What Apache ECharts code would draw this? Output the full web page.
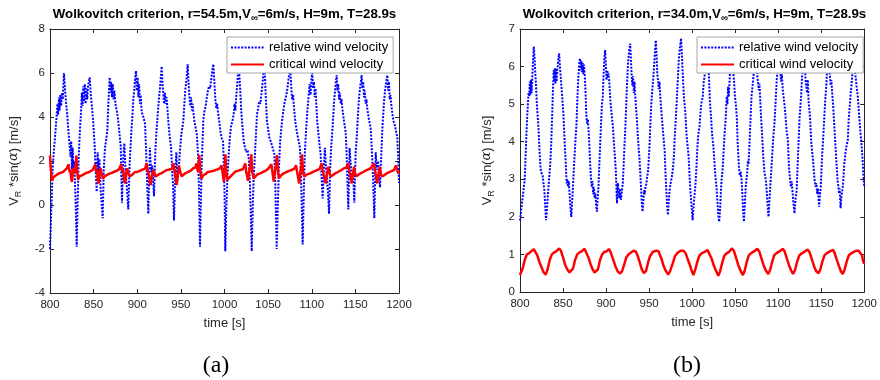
<!DOCTYPE html>
<html>
<head>
<meta charset="utf-8">
<script src="https://cdn.jsdelivr.net/npm/echarts@6/dist/echarts.min.js"></script>
<style>
  html, body { margin: 0; padding: 0; background: #fff; }
  #chart { width: 880px; height: 380px; }
</style>
</head>
<body>
<div id="chart"></div>
<script>
// Wolkovitch criterion time histories, two blade radii, [time s, value m/s]

// (a) r = 54.5 m : relative wind velocity
const relA = [
[800,-2.0],[801.5,-0.2],[803,1.6],[804.5,2.5],[806,3.2],[807.5,4.0],[808.5,4.6],[809.3,4.1],[810.2,4.9],[811,4.3],[811.9,5.0],[812.8,4.5],[813.7,5.1],[814.6,4.8],[816,6.0],[817.3,5.2],[818.5,4.6],[819.8,4.1],[821,3.4],[822.5,2.7],[823.5,2.2],[824.3,2.9],[825.2,1.6],[826,2.6],[826.8,1.5],[827.8,2.0],[829.3,0.2],[830.6,-1.9],
[831.8,0.3],[833,2.3],[834.3,3.4],[835.5,4.2],[836.5,5.1],[837.3,4.5],[838.2,5.4],[839,4.7],[839.9,5.5],[840.8,4.6],[841.7,5.3],[842.6,4.8],[843.6,5.4],[845.5,5.8],[846.8,5.0],[848,4.5],[849.3,3.9],[850.4,3.2],[851.2,2.7],[852.3,1.6],[853.5,0.6],[854.6,2.4],[855.6,1.3],[856.6,2.1],[858.2,0.6],[860.4,-0.6],
[861.6,1.6],[863,2.6],[864.5,3.0],[865.7,3.4],[866.8,4.5],[868.4,5.8],[869.3,5.1],[870.2,5.6],[871.1,4.9],[872,5.5],[872.9,4.8],[873.8,5.2],[875,4.6],[876.5,4.3],[878,3.9],[879.5,3.3],[881,2.7],[882.5,0.1],[884,2.2],[885.2,2.8],[886.5,1.6],[887.8,1.0],[889.7,-0.2],
[891.2,1.8],[893.2,3.3],[894.5,4.1],[895.5,4.8],[896.5,5.2],[897.5,5.7],[898.6,6.1],[899.5,5.2],[900.4,5.8],[901.3,4.9],[902.2,5.5],[903.1,4.6],[904,5.0],[905,4.25],[907,4.0],[908.9,3.7],[910,2.6],[911.2,1.2],[912.7,-0.4],[914.5,2.6],[915.8,1.5],[917.3,1.8],[919.2,0.4],
[920.8,2.5],[922.3,3.5],[923.6,4.2],[924.8,4.8],[926,5.3],[927,5.8],[928,6.3],[929,5.5],[929.9,5.0],[930.8,4.6],[931.7,5.1],[932.6,4.6],[933.5,4.9],[934.4,4.5],[935.6,3.8],[937.2,3.1],[938.8,2.6],[940,1.6],[941,0.9],[942.1,-0.7],
[943.6,1.4],[944.8,2.4],[946,1.1],[947.5,1.6],[948.8,2.4],[950.5,3.2],[952.8,3.8],[954,4.6],[955.2,5.3],[956.5,5.7],[957.8,6.4],[958.8,5.6],[959.8,4.9],[960.8,4.5],[961.7,4.9],[962.6,4.3],[963.5,4.6],[964.4,4.2],[965.5,3.8],[967,3.5],[968.3,3.2],[969.5,2.4],[970.6,1.0],[971.9,-1.9],
[973,0.3],[973.8,1.8],[975,3.0],[975.8,3.9],[977,4.25],[978.5,4.5],[979.8,4.9],[981,5.2],[982.3,5.4],[983.5,5.3],[984.7,5.7],[986,6.1],[987.2,6.4],[988.4,5.6],[989.5,4.8],[990.6,4.4],[991.6,4.6],[992.6,4.2],[994,3.8],[995.5,3.3],[997,3.0],[998.3,2.9],[999.3,1.8],[1000.1,0.4],[1000.9,-2.1],
[1002,-0.3],[1003.4,1.3],[1004.8,2.3],[1006,3.0],[1007.5,3.6],[1009,3.8],[1010.5,4.1],[1011.5,4.6],[1012.5,4.3],[1013.5,5.0],[1014.5,5.4],[1015.5,6.0],[1016.5,6.2],[1017.5,5.6],[1018.3,5.0],[1019.3,4.2],[1020.5,3.6],[1022,2.9],[1023.5,2.6],[1025,2.4],[1026.5,2.5],[1027.8,2.1],[1029,1.2],[1030.2,-0.5],[1031.2,-2.1],
[1032.3,-0.2],[1033.4,1.2],[1034.5,2.0],[1035.8,3.0],[1037.2,4.1],[1038.5,4.4],[1039.8,4.7],[1041,4.6],[1042.2,5.0],[1043.5,5.5],[1044.9,6.1],[1046,6.2],[1047.2,5.0],[1048.7,3.8],[1050.2,3.4],[1051.7,3.0],[1053,2.9],[1054.4,2.7],[1055.8,2.5],[1057.2,2.3],[1058.3,0.8],[1059.8,-2.0],
[1061,-0.2],[1062.3,1.6],[1063.8,2.9],[1065.9,3.8],[1067.5,4.3],[1069,4.7],[1070.3,4.9],[1071.6,5.15],[1073,5.6],[1074.3,6.0],[1075.4,6.2],[1076.5,5.4],[1077.5,4.8],[1078.6,5.0],[1079.7,4.4],[1081.1,3.8],[1082.6,3.4],[1084,3.1],[1085,2.9],[1086.5,2.6],[1087.8,1.2],[1089.6,-1.8],
[1090.8,0.4],[1092,2.3],[1093.5,3.4],[1095,4.3],[1096.5,5.0],[1097.6,5.5],[1098.6,5.0],[1099.6,5.7],[1100.6,6.0],[1101.6,5.3],[1102.5,5.6],[1103.4,4.9],[1104.3,5.3],[1105.2,4.6],[1106.3,3.8],[1108,3.1],[1109,2.7],[1110.2,2.3],[1111.2,1.3],[1112.5,0.3],[1113.8,1.6],[1115,2.6],[1116.3,1.7],[1117.6,1.2],[1118.8,0.4],[1119.8,-0.4],
[1121.3,1.9],[1122.4,2.7],[1123.5,3.3],[1124.6,4.0],[1125.6,4.7],[1126.6,5.15],[1127.6,5.6],[1128.6,5.9],[1129.5,5.2],[1130.4,5.5],[1131.3,4.8],[1132.2,5.1],[1133.2,4.6],[1134.2,4.8],[1135,4.4],[1137,3.8],[1138.9,3.3],[1139.8,2.5],[1140.8,1.2],[1141.9,-0.2],[1143.4,2.6],[1144.7,1.8],[1146,1.3],[1147.4,1.5],[1148.8,0.1],
[1150.3,2.4],[1151.5,3.0],[1152.8,4.0],[1154.1,4.85],[1155.3,5.3],[1156.3,5.6],[1157.2,5.9],[1158.1,5.3],[1159,5.6],[1159.9,4.9],[1160.8,5.2],[1161.8,4.6],[1162.7,4.8],[1163.6,4.4],[1165.5,3.9],[1167.5,3.5],[1168.8,2.6],[1170.2,1.3],[1171.7,-0.6],[1173.3,2.4],[1174.6,1.6],[1176,2.0],[1177.2,1.4],[1178.2,0.8],
[1179.6,2.2],[1181,3.5],[1182.8,4.7],[1184,5.2],[1185.3,5.6],[1186.6,5.9],[1187.6,5.2],[1188.5,5.6],[1189.4,4.8],[1190.3,5.0],[1191.3,4.5],[1192.5,4.1],[1193.8,3.8],[1195.4,3.6],[1196.8,3.3],[1198,3.1],[1199,2.2],[1200,1.0]
];

// (a) r = 54.5 m : critical wind velocity
const critA = [
[800,2.25],[801,1.6],[802.3,1.1],[803.5,1.25],[805,1.3],[807,1.35],[809,1.4],[811,1.45],[813,1.5],[815,1.5],[817,1.55],[819,1.65],[820.5,1.6],[821.4,1.85],[822.4,1.5],[823.3,1.6],[824.3,1.2],[825.2,1.05],[826,1.4],[827,1.7],[828,1.55],[829.2,1.45],[830.2,2.25],[831.2,1.5],[832.2,1.15],
[833.5,1.3],[835,1.35],[837,1.35],[839,1.4],[841,1.45],[843,1.5],[845,1.5],[847,1.55],[849,1.6],[850.6,1.6],[852,1.85],[853,1.5],[854,1.6],[854.8,1.15],[855.8,0.98],[856.8,1.4],[858,1.67],[859,1.45],[860.7,1.2],
[862.5,1.3],[864.5,1.35],[867,1.4],[870,1.45],[873,1.5],[876,1.55],[879,1.62],[880.5,1.65],[881.7,1.85],[882.8,1.5],[884,1.6],[885,1.15],[886.3,0.98],[887.4,1.4],[888.6,1.67],[889.8,1.45],[891.3,1.3],
[893,1.3],[895,1.4],[897.4,1.5],[900,1.5],[902.5,1.55],[905,1.59],[907,1.6],[909,1.65],[910.8,1.9],[911.8,1.6],[912.8,1.65],[914,1.2],[915.4,0.9],[916.8,1.35],[918.4,1.6],[919.7,1.45],[921.1,1.3],
[923,1.35],[925,1.4],[927.5,1.44],[930,1.5],[933.7,1.59],[936,1.6],[938,1.62],[939.8,1.65],[941.3,1.9],[942.4,1.6],[943.5,1.55],[944.3,1.2],[945.2,0.9],[946.5,1.4],[947.8,1.8],[949,1.55],[950.9,1.3],
[953,1.35],[955,1.44],[958,1.5],[961,1.55],[964.2,1.67],[966.5,1.7],[968,1.89],[969,1.6],[970,1.5],[971.1,2.27],[972.3,1.5],[973.5,1.2],
[975.7,1.36],[978,1.4],[981,1.5],[984,1.52],[987,1.55],[989.1,1.59],[992,1.62],[994.8,1.67],[996.5,1.8],[997.5,1.55],[998.4,1.6],[999.3,1.05],[1000.2,1.5],[1001,2.3],[1002,1.5],[1003.3,1.15],
[1004.8,1.21],[1007,1.3],[1009.5,1.4],[1012.4,1.52],[1015,1.55],[1018,1.59],[1021,1.62],[1022.8,1.7],[1023.8,1.89],[1024.8,1.55],[1025.8,1.6],[1026.9,1.1],[1028.2,1.5],[1029.5,1.8],[1030.7,2.3],[1031.8,1.5],[1033.4,1.21],
[1035.5,1.3],[1038,1.4],[1041,1.44],[1044,1.5],[1047,1.55],[1050.6,1.67],[1052.5,1.7],[1053.8,1.85],[1054.8,1.55],[1055.6,1.6],[1056.4,1.06],[1057.6,1.45],[1058.8,1.8],[1060.2,2.27],[1061.3,1.5],[1062.5,1.21],
[1065,1.35],[1068,1.44],[1071,1.5],[1074,1.55],[1077,1.59],[1080,1.65],[1082,1.8],[1083,1.55],[1084.4,1.6],[1085.7,0.98],[1086.9,1.5],[1088,1.8],[1088.8,2.3],[1090,1.5],[1091.3,1.3],
[1094,1.38],[1098.3,1.44],[1102,1.52],[1106,1.59],[1109,1.63],[1111.3,1.89],[1112.4,1.6],[1113.5,1.62],[1114.8,1.2],[1116,0.98],[1117.4,1.4],[1119,1.74],[1120.3,1.45],[1121.7,1.3],
[1124,1.35],[1127,1.44],[1130,1.5],[1134,1.59],[1137,1.67],[1139.5,1.7],[1141.9,1.89],[1142.9,1.6],[1144,1.62],[1145.8,0.98],[1147.2,1.4],[1148.4,1.74],[1149.6,1.45],[1150.8,1.3],
[1153,1.35],[1156,1.44],[1159,1.5],[1163,1.59],[1167.5,1.67],[1169.5,1.7],[1171.3,1.89],[1172.3,1.6],[1173.5,1.62],[1175.1,0.98],[1176.5,1.4],[1177.8,1.74],[1179,1.45],[1180.3,1.3],
[1183,1.35],[1186,1.44],[1190,1.52],[1194.3,1.59],[1196.5,1.8],[1197.8,1.6],[1199.2,1.44],[1200,1.5]
];

// (b) r = 34.0 m : relative wind velocity
const relB = [
[800,1.9],[801.5,2.2],[803,2.5],[805.4,2.98],[806.3,3.5],[807.2,4.04],[808.2,4.6],[809.2,5.02],[810,5.3],[810.7,5.2],[811.4,5.6],[812.1,5.25],[812.8,5.65],[813.5,5.3],[814.3,5.7],[815.2,6.2],[816,6.53],[816.8,6.3],[817.6,5.9],[818.6,5.5],[819.6,5.0],[820.5,4.7],[821.4,4.4],[822.6,3.8],[823.5,3.4],[824.4,3.2],[825.3,3.2],[826.3,3.1],[827.3,2.9],[828.3,2.7],[829.3,2.3],[830.2,1.91],
[831.3,2.2],[832.5,2.62],[833.8,3.0],[835.2,3.42],[836.2,3.9],[837.2,4.57],[838.2,5.3],[839.2,5.9],[839.8,5.6],[840.5,5.97],[841.2,5.55],[841.9,5.95],[842.6,5.6],[843.4,5.9],[844.5,6.2],[845.5,6.35],[846.4,6.0],[847.6,5.64],[849,5.2],[850.4,4.75],[851.5,4.2],[852.3,3.8],[853.2,3.42],[854.2,2.89],[855,3.0],[855.8,2.8],[856.6,2.95],[857.4,2.7],[858.4,2.3],[859.6,2.0],
[860.6,2.4],[861.6,2.8],[862.5,3.25],[863.6,3.7],[864.6,4.1],[865.7,4.49],[866.6,5.1],[867.6,5.64],[868.6,6.0],[869.6,6.22],[870.4,5.9],[871.2,6.15],[872,5.85],[872.8,6.1],[873.6,5.8],[874.4,6.05],[875.3,5.75],[876.2,5.3],[877.1,4.7],[877.9,4.49],[878.7,4.6],[879.5,4.4],[880.4,4.0],[881.5,3.42],[882.5,3.0],[883.4,2.8],[884.2,2.95],[885,2.6],[885.8,2.8],[886.7,2.5],[887.6,2.62],[888.5,2.3],[889.4,2.14],
[890.3,2.5],[891.2,2.8],[892.2,3.4],[893.2,3.95],[894.2,4.5],[895.2,5.0],[896.2,5.2],[897,5.7],[898,6.2],[898.9,6.44],[899.7,6.1],[900.5,5.64],[901.4,5.9],[902.2,5.7],[903,5.82],[904,5.5],[905,5.1],[906.2,4.8],[907,4.6],[908,4.4],[909.3,3.9],[910.3,3.6],[911.3,3.25],[912.7,2.36],[913.6,2.9],[914.6,2.71],[915.5,2.5],[916.4,2.75],[917.2,2.45],[918.4,2.4],
[919.5,2.9],[920.5,3.4],[921.4,3.9],[922.3,4.31],[923.3,4.9],[924.3,5.5],[925.5,6.08],[926.7,6.4],[928,6.61],[928.9,6.2],[929.8,5.73],[930.6,5.5],[931.4,5.75],[932.2,5.3],[933,5.6],[933.8,5.27],[934.6,5.0],[935.6,4.67],[936.8,4.2],[938,3.8],[938.7,3.6],[939.7,3.2],[940.6,2.8],[941.5,2.4],[942.4,2.14],
[943.3,2.4],[944.1,2.71],[945,2.6],[945.9,2.8],[947,2.9],[948,3.1],[949,3.25],[950.5,3.9],[951.7,4.57],[952.8,5.1],[954.7,5.64],[955.8,6.0],[956.8,6.4],[957.8,6.7],[958.7,6.3],[959.6,5.8],[960.4,5.64],[961.2,5.4],[962.1,5.6],[963,5.2],[964.2,4.84],[965.4,4.5],[966.8,4.1],[968.1,3.78],[969,3.2],[970,2.71],[971,2.3],[971.9,2.05],
[972.9,2.4],[973.8,2.7],[974.7,2.85],[975.7,2.85],[976.7,3.1],[977.8,3.3],[978.8,3.6],[979.8,4.1],[981,4.6],[982.2,5.1],[983.3,5.6],[984.5,6.17],[985.8,6.5],[987.2,6.75],[988.2,6.3],[989.1,5.82],[990,5.4],[990.8,5.1],[991.7,4.9],[992.4,4.67],[993.5,4.2],[994.7,3.9],[996,3.6],[997,3.1],[998,2.71],[999.3,2.3],[1000.6,1.91],
[1001.8,2.3],[1002.9,2.6],[1004,2.89],[1005,3.3],[1006,3.8],[1007.2,4.2],[1008.6,4.4],[1009.8,4.8],[1010.6,5.0],[1011.5,4.95],[1012.4,5.2],[1013.5,5.6],[1014.5,5.73],[1015.6,6.3],[1016.5,6.55],[1017.5,6.3],[1018.5,6.0],[1019.5,5.82],[1020.6,5.1],[1022,4.67],[1023.2,4.2],[1024.6,3.9],[1025.8,3.51],[1027,3.1],[1028.3,2.8],[1029.6,2.36],[1030.6,2.0],[1031.5,1.87],
[1032.5,2.2],[1033.5,2.7],[1034.3,3.0],[1035.4,3.25],[1036.5,3.7],[1037.7,4.2],[1039.2,4.67],[1040.2,5.2],[1041,5.0],[1041.8,5.46],[1042.6,5.2],[1043.5,5.6],[1044.3,6.0],[1045.3,6.45],[1046.4,6.3],[1047.4,5.9],[1048.7,5.64],[1049.8,5.2],[1050.8,5.0],[1051.9,4.67],[1052.9,4.0],[1054.4,3.33],[1055.4,3.1],[1056.5,3.2],[1057.4,3.0],[1058.2,2.7],[1059.2,2.2],[1060.2,1.87],
[1061.2,2.3],[1062.3,2.8],[1064,3.16],[1064.8,3.5],[1065.6,3.4],[1066.6,3.9],[1067.7,4.5],[1069,5.2],[1070.3,5.5],[1071.6,5.82],[1072.6,6.1],[1073.6,6.3],[1074.6,6.1],[1075.6,5.8],[1076.5,5.6],[1077.4,5.37],[1078.2,5.55],[1079,5.2],[1080.1,4.67],[1081.3,4.2],[1082.7,3.6],[1084,3.2],[1085.7,2.98],[1086.7,2.7],[1087.8,2.3],[1088.8,2.0],
[1089.8,2.4],[1090.8,2.8],[1091.8,3.16],[1093,3.6],[1094.3,4.1],[1095.7,4.49],[1096.9,5.0],[1098.3,5.64],[1099.3,5.9],[1100.3,6.2],[1101.3,6.35],[1102.3,6.0],[1103.3,5.6],[1104.3,5.8],[1105.3,5.4],[1106.3,5.37],[1107.3,5.0],[1108.3,4.75],[1109.8,4.3],[1111.3,4.04],[1112.6,3.3],[1113.9,2.98],[1114.8,2.8],[1115.7,2.95],[1116.6,2.7],[1117.6,2.4],[1119,2.09],
[1120.3,2.5],[1121.5,2.7],[1122.5,3.3],[1123.5,3.86],[1124.8,4.6],[1126.6,5.2],[1128,5.82],[1129,6.2],[1130,6.4],[1131,6.0],[1132,5.6],[1132.8,5.55],[1133.6,5.3],[1134.4,5.65],[1135.3,5.1],[1137,4.67],[1138.4,4.0],[1140.8,3.42],[1142.2,3.0],[1143.5,2.8],[1144.4,2.9],[1145.3,2.62],[1146.2,2.75],[1147.6,2.27],
[1148.7,2.62],[1149.6,2.8],[1150.4,3.3],[1151.3,3.7],[1152.2,4.04],[1153.5,4.6],[1154.7,5.1],[1156,5.5],[1157,6.0],[1158,6.3],[1159,6.1],[1160,5.8],[1161,5.5],[1161.8,5.64],[1162.8,5.3],[1164,4.93],[1165.8,4.2],[1167.8,3.42],[1169,3.0],[1170,2.8],[1170.8,2.62],[1171.6,2.75],[1172.5,2.23],
[1173.4,2.5],[1174.6,2.71],[1175.5,2.9],[1176.8,3.4],[1178.2,3.7],[1179.5,3.9],[1180.9,4.04],[1182,4.6],[1184,5.2],[1185.5,5.6],[1186.6,5.9],[1187.6,6.25],[1188.6,6.1],[1189.6,5.8],[1190.6,5.6],[1191.6,5.37],[1192.6,5.2],[1193.8,4.8],[1195.4,4.31],[1196.8,3.95],[1198.2,3.5],[1199.2,3.07],[1200,2.8]
];

// (b) r = 34.0 m : critical wind velocity
const critB = [
[800,0.45],[801,0.46],[803,0.62],[805.5,0.85],[808,1.0],[810.5,1.03],[813,1.08],[816,1.14],[818,1.12],[820,0.98],[822.5,0.8],[825,0.66],[827.5,0.52],[830,0.46],
[832,0.6],[834.5,0.85],[837,1.0],[839.5,1.05],[842,1.08],[845.5,1.16],[847.5,1.1],[850,0.92],[852.5,0.72],[855,0.6],[857.5,0.52],[859.5,0.48],
[861.5,0.62],[864,0.85],[866.5,1.0],[869,1.05],[871.5,1.08],[875,1.15],[877,1.1],[879.5,0.92],[882,0.74],[884.5,0.6],[886.5,0.52],[888.5,0.48],
[890.5,0.6],[893,0.85],[895.5,1.0],[898,1.07],[900.5,1.08],[903.5,1.14],[905.5,1.05],[908.5,0.85],[911,0.68],[913.5,0.55],[916.5,0.49],
[918.5,0.55],[921,0.72],[923.5,0.92],[926,1.0],[929,1.05],[932,1.1],[934.5,1.08],[937,0.95],[939.5,0.76],[941.5,0.6],[944,0.5],
[946.5,0.56],[949,0.8],[951,0.95],[954.5,1.07],[958.5,1.1],[961,1.08],[962.5,1.03],[964.5,0.88],[966.5,0.72],[969,0.58],[972.2,0.46],
[974.5,0.56],[977.5,0.76],[980,0.95],[983.5,1.05],[987,1.1],[990,1.1],[992.5,1.03],[994.5,0.9],[996.8,0.76],[999,0.6],[1001.5,0.45],
[1003.5,0.58],[1006,0.8],[1008.5,0.97],[1011,1.03],[1014,1.06],[1017.8,1.12],[1020,1.07],[1022.5,0.9],[1025,0.72],[1027.5,0.58],[1030.5,0.43],
[1032.5,0.55],[1035,0.78],[1037.5,0.97],[1040,1.03],[1043,1.07],[1046.4,1.16],[1048.5,1.1],[1051,0.92],[1053.5,0.73],[1056,0.58],[1059,0.45],
[1061,0.56],[1063.5,0.8],[1066,0.98],[1069,1.04],[1072,1.08],[1075.8,1.15],[1078,1.08],[1080.5,0.9],[1083,0.72],[1085.5,0.58],[1088.5,0.48],
[1090.5,0.58],[1093,0.8],[1095.5,0.98],[1098.5,1.04],[1101.5,1.08],[1105.6,1.15],[1107.5,1.08],[1110,0.9],[1112.5,0.72],[1115,0.58],[1117.3,0.48],
[1119.5,0.58],[1122,0.8],[1124.5,0.97],[1127.5,1.03],[1130.5,1.07],[1134.3,1.13],[1136.5,1.06],[1139,0.88],[1141.5,0.7],[1144,0.56],[1146.9,0.5],
[1149,0.6],[1151.5,0.82],[1154,0.98],[1157,1.04],[1160,1.08],[1163.7,1.12],[1165.5,1.05],[1168,0.87],[1170.5,0.7],[1172.8,0.56],[1175,0.48],
[1177,0.58],[1179.5,0.8],[1182,0.97],[1185,1.03],[1188,1.07],[1191,1.1],[1193.5,1.1],[1195.5,1.05],[1197.5,0.98],[1198.8,0.82],[1200,0.75]
];

const seriesNames = ['relative wind velocity', 'critical wind velocity'];
const panelTitles = [
  ['Wolkovitch criterion, r=54.5m,V', '∞', '=6m/s, H=9m, T=28.9s'],
  ['Wolkovitch criterion, r=34.0m,V', '∞', '=6m/s, H=9m, T=28.9s']
];
const panelTags = ['(a)', '(b)'];
const timeRange = { min: 800, max: 1200, step: 50 };
const valueRanges = [ { min: -4, max: 8, step: 2 }, { min: 0, max: 7, step: 1 } ];

const FONT = '"Liberation Sans", Arial, Helvetica, sans-serif';
const INK = '#262626';

const grids = [
  { left: 50, top: 29, width: 349, height: 264 },
  { left: 520, top: 29, width: 349, height: 263 }
];

const plainNumber = v => String(v);

function xAxisFor(g, pos) {
  const bottom = pos === 'bottom';
  return {
    type: 'value', gridIndex: g, position: pos,
    min: timeRange.min, max: timeRange.max, interval: timeRange.step,
    axisLine: { show: true, onZero: false, lineStyle: { color: INK, width: 1 } },
    axisTick: { show: true, inside: true, length: 4, lineStyle: { color: INK } },
    axisLabel: { show: bottom, margin: 6, color: INK, fontSize: 11.5, fontFamily: FONT, formatter: plainNumber },
    splitLine: { show: false },
    name: bottom ? 'time [s]' : '',
    nameLocation: 'middle', nameGap: 24,
    nameTextStyle: { color: INK, fontSize: 13, fontFamily: FONT }
  };
}

function yAxisFor(g, pos) {
  const left = pos === 'left';
  const r = valueRanges[g];
  return {
    type: 'value', gridIndex: g, position: pos,
    min: r.min, max: r.max, interval: r.step,
    axisLine: { show: true, onZero: false, lineStyle: { color: INK, width: 1 } },
    axisTick: { show: true, inside: true, length: 4, lineStyle: { color: INK } },
    axisLabel: { show: left, margin: 5, color: INK, fontSize: 11.5, fontFamily: FONT, formatter: plainNumber },
    splitLine: { show: false },
    name: left ? '{n|V}{s|R}{n| *sin(}{g|α}{n|) [m/s]}' : '',
    nameLocation: 'middle', nameRotate: 90, nameGap: g === 0 ? 27 : 24,
    nameTextStyle: {
      color: INK, fontSize: 13, fontFamily: FONT,
      rich: {
        n: { color: INK, fontSize: 13, fontFamily: FONT },
        s: { color: INK, fontSize: 9, fontFamily: FONT, padding: [9, 0, 0, 0] },
        g: { color: INK, fontSize: 13, fontFamily: '"DejaVu Serif", serif', fontStyle: 'italic' }
      }
    }
  };
}

function seriesFor(g) {
  return [
    {
      name: seriesNames[0], type: 'line', xAxisIndex: 2 * g, yAxisIndex: 2 * g,
      data: g === 0 ? relA : relB, symbol: 'none', showSymbol: false,
      lineStyle: { color: '#0000ff', width: 2, type: [2, 1.4] },
      itemStyle: { color: '#0000ff' }, z: 2
    },
    {
      name: seriesNames[1], type: 'line', xAxisIndex: 2 * g, yAxisIndex: 2 * g,
      data: g === 0 ? critA : critB, symbol: 'none', showSymbol: false,
      lineStyle: { color: '#ff0000', width: 2.5, type: 'solid' },
      itemStyle: { color: '#ff0000' }, z: 3
    }
  ];
}

function legendFor(g) {
  return {
    left: grids[g].left + 177, top: 37, orient: 'vertical',
    itemWidth: 33, itemHeight: 14, itemGap: 4,
    padding: [4, 5, 2, 3],
    backgroundColor: '#ffffff', borderColor: '#a6a6a6', borderWidth: 1, borderRadius: 0,
    itemStyle: { opacity: 0 },
    textStyle: { color: '#000', fontSize: 13, fontFamily: FONT },
    selectedMode: false, data: seriesNames, z: 10
  };
}

function titleGraphic(g) {
  const t = panelTitles[g];
  return {
    type: 'text', x: grids[g].left + grids[g].width / 2, y: 14, z: 20,
    style: {
      text: '{b|' + t[0] + '}{s|' + t[1] + '}{b|' + t[2] + '}',
      align: 'center', verticalAlign: 'middle',
      rich: {
        b: { fill: '#000', fontSize: 13.3, fontWeight: 'bold', fontFamily: FONT },
        s: { fill: '#000', fontSize: 9.5, fontWeight: 'bold', fontFamily: FONT, padding: [9, 0, 0, 0] }
      }
    }
  };
}

function tagGraphic(g) {
  return {
    type: 'text', x: g === 0 ? 216 : 687, y: 366, z: 20,
    style: {
      text: panelTags[g], align: 'center', verticalAlign: 'middle',
      fill: '#000', fontSize: 24, fontFamily: '"Liberation Serif", "Times New Roman", serif'
    }
  };
}

const chart = echarts.init(document.getElementById('chart'), null, { renderer: 'canvas' });
chart.setOption({
  backgroundColor: '#ffffff',
  animation: false,
  grid: grids,
  xAxis: [xAxisFor(0, 'bottom'), xAxisFor(0, 'top'), xAxisFor(1, 'bottom'), xAxisFor(1, 'top')],
  yAxis: [yAxisFor(0, 'left'), yAxisFor(0, 'right'), yAxisFor(1, 'left'), yAxisFor(1, 'right')],
  legend: [legendFor(0), legendFor(1)],
  series: seriesFor(0).concat(seriesFor(1)),
  graphic: [titleGraphic(0), titleGraphic(1), tagGraphic(0), tagGraphic(1)]
});
</script>
</body>
</html>
